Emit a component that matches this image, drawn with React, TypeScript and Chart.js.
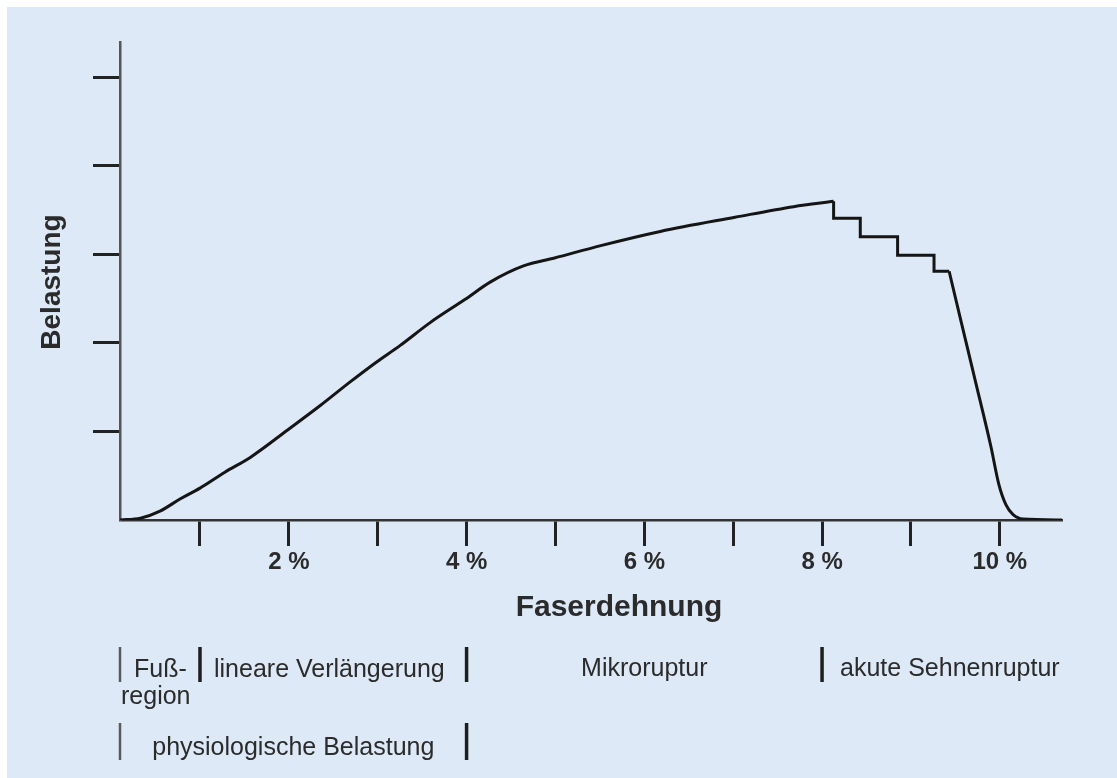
import React, { useEffect, useRef } from "react";
import { Chart, registerables } from "chart.js";

Chart.register(...registerables);

// Faserdehnung (%) and Belastung (relative units)
const strain = [
  0.1, 0.33, 0.55, 0.78, 1.0, 1.28, 1.57, 1.99, 2.35, 2.69, 2.98, 3.25, 3.59, 3.98, 4.27, 4.64, 4.99,
  5.51, 6.18, 7.02, 7.68, 8.13, 8.13, 8.43, 8.43, 8.85, 8.85, 9.26, 9.26, 9.43, 9.56, 9.73, 9.9, 9.99,
  10.07, 10.15, 10.26, 10.7,
];
const load = [
  0.0, 0.02, 0.1, 0.24, 0.36, 0.54, 0.71, 1.02, 1.29, 1.56, 1.78, 1.97, 2.23, 2.49, 2.69, 2.87, 2.96,
  3.1, 3.26, 3.42, 3.54, 3.6, 3.41, 3.41, 3.2, 3.2, 2.99, 2.99, 2.81, 2.81, 2.26, 1.55, 0.83, 0.4,
  0.17, 0.06, 0.01, 0.0,
];
// index of the peak (end of smooth rise) and of the last step corner (start of the fall)
const peakIndex = 21;
const fallIndex = 29;

const xTickValues = [1, 2, 3, 4, 5, 6, 7, 8, 9, 10];
const xLabelValues = [2, 4, 6, 8, 10];
const yTickValues = [1, 2, 3, 4, 5];

const xTitle = "Faserdehnung";
const yTitle = "Belastung";

// phase bands below the chart (boundaries in % strain)
const phaseBounds = [0.1, 1, 4, 8];
const phaseLabels = ["Fuß-", "lineare Verlängerung", "Mikroruptur", "akute Sehnenruptur"];
const phaseLabelSecondLine = "region";
const physioBounds = [0.1, 4];
const physioLabel = "physiologische Belastung";

const FONT = '"Liberation Sans", Arial, Helvetica, sans-serif';
const BG = "#dde9f7";
const TEXT = "#2b2b2b";
const LINE = "#151515";

const bgPlugin = {
  id: "bg",
  beforeDraw(chart: any) {
    const { ctx, width, height } = chart;
    ctx.save();
    ctx.fillStyle = "#ffffff";
    ctx.fillRect(0, 0, width, height);
    ctx.fillStyle = BG;
    ctx.fillRect(7, 7, width - 7, height - 7);
    ctx.restore();
  },
};

const textPlugin = {
  id: "texts",
  afterDraw(chart: any) {
    const { ctx } = chart;
    const xs = chart.scales.x;
    const px = (v: number) => xs.getPixelForValue(v);
    ctx.save();

    // axis titles
    ctx.fillStyle = TEXT;
    ctx.font = `bold 30px ${FONT}`;
    ctx.textAlign = "center";
    ctx.textBaseline = "alphabetic";
    ctx.fillText(xTitle, 619, 616);

    ctx.save();
    ctx.translate(60, 282);
    ctx.rotate(-Math.PI / 2);
    ctx.font = `bold 28px ${FONT}`;
    ctx.textAlign = "center";
    ctx.textBaseline = "alphabetic";
    ctx.fillText(yTitle, 0, 0);
    ctx.restore();

    const bar = (x: number, y1: number, y2: number, light: boolean) => {
      ctx.beginPath();
      ctx.strokeStyle = light ? "#5a5a5a" : "#1e1e1e";
      ctx.lineWidth = light ? 2.5 : 3.5;
      ctx.moveTo(x, y1);
      ctx.lineTo(x, y2);
      ctx.stroke();
    };

    // row 1: phases
    phaseBounds.forEach((b, i) => bar(px(b), 647, 682, i === 0));
    ctx.font = `25px ${FONT}`;
    ctx.fillStyle = TEXT;
    ctx.textAlign = "left";
    ctx.fillText(phaseLabels[0], px(phaseBounds[0]) + 14, 677);
    ctx.fillText(phaseLabels[1], px(phaseBounds[1]) + 14, 677);
    ctx.textAlign = "center";
    ctx.fillText(phaseLabels[2], (px(phaseBounds[2]) + px(phaseBounds[3])) / 2, 676);
    ctx.textAlign = "left";
    ctx.fillText(phaseLabels[3], px(phaseBounds[3]) + 18, 676);
    ctx.fillText(phaseLabelSecondLine, px(phaseBounds[0]) + 1, 704);

    // row 3: physiological load
    physioBounds.forEach((b, i) => bar(px(b), 723, 760, i === 0));
    ctx.textAlign = "center";
    ctx.fillText(physioLabel, (px(physioBounds[0]) + px(physioBounds[1])) / 2, 755);

    ctx.restore();
  },
};

export default function App() {
  const ref = useRef<HTMLCanvasElement>(null);

  useEffect(() => {
    const points = strain.map((x, i) => ({ x, y: load[i] }));
    const base = {
      showLine: true,
      borderColor: LINE,
      borderWidth: 3,
      pointRadius: 0,
      fill: false,
      borderJoinStyle: "miter",
      borderCapStyle: "butt",
    };
    const chart = new Chart(ref.current as HTMLCanvasElement, {
      type: "scatter",
      data: {
        datasets: [
          { ...base, data: points.slice(0, peakIndex + 1), cubicInterpolationMode: "monotone" } as any,
          { ...base, data: points.slice(peakIndex, fallIndex + 1), tension: 0 } as any,
          { ...base, data: points.slice(fallIndex), cubicInterpolationMode: "monotone" } as any,
        ],
      },
      options: {
        animation: false,
        responsive: false,
        devicePixelRatio: 1,
        layout: { padding: { left: 0, top: 42, right: 55, bottom: 0 } },
        plugins: { legend: { display: false }, tooltip: { enabled: false } },
        scales: {
          x: {
            type: "linear",
            min: 0.1,
            max: 10.7,
            afterBuildTicks: (s: any) => {
              s.ticks = xTickValues.map((v) => ({ value: v }));
            },
            afterFit: (s: any) => {
              s.height = 258;
            },
            grid: {
              drawOnChartArea: false,
              drawTicks: true,
              tickLength: 26,
              tickWidth: 3,
              tickColor: "#222",
            },
            border: { display: true, color: "#333", width: 2.5 },
            ticks: {
              autoSkip: false,
              maxRotation: 0,
              padding: 2,
              color: TEXT,
              font: { family: FONT, size: 24, weight: "bold" },
              callback: (v: any) => (xLabelValues.includes(Number(v)) ? `${v} %` : ""),
            },
          },
          y: {
            type: "linear",
            min: 0,
            max: 5.4,
            afterBuildTicks: (s: any) => {
              s.ticks = yTickValues.map((v) => ({ value: v }));
            },
            afterFit: (s: any) => {
              s.width = 120;
            },
            grid: {
              drawOnChartArea: false,
              drawTicks: true,
              tickLength: 27,
              tickWidth: 3,
              tickColor: "#222",
            },
            border: { display: true, color: "#555", width: 2.5 },
            ticks: { callback: () => "" },
          },
        },
      } as any,
      plugins: [bgPlugin, textPlugin],
    });
    return () => chart.destroy();
  }, []);

  return (
    <div style={{ position: "absolute", left: 0, top: 0, width: 1117, height: 778 }}>
      <canvas ref={ref} width={1117} height={778} style={{ display: "block", width: 1117, height: 778 }} />
    </div>
  );
}
